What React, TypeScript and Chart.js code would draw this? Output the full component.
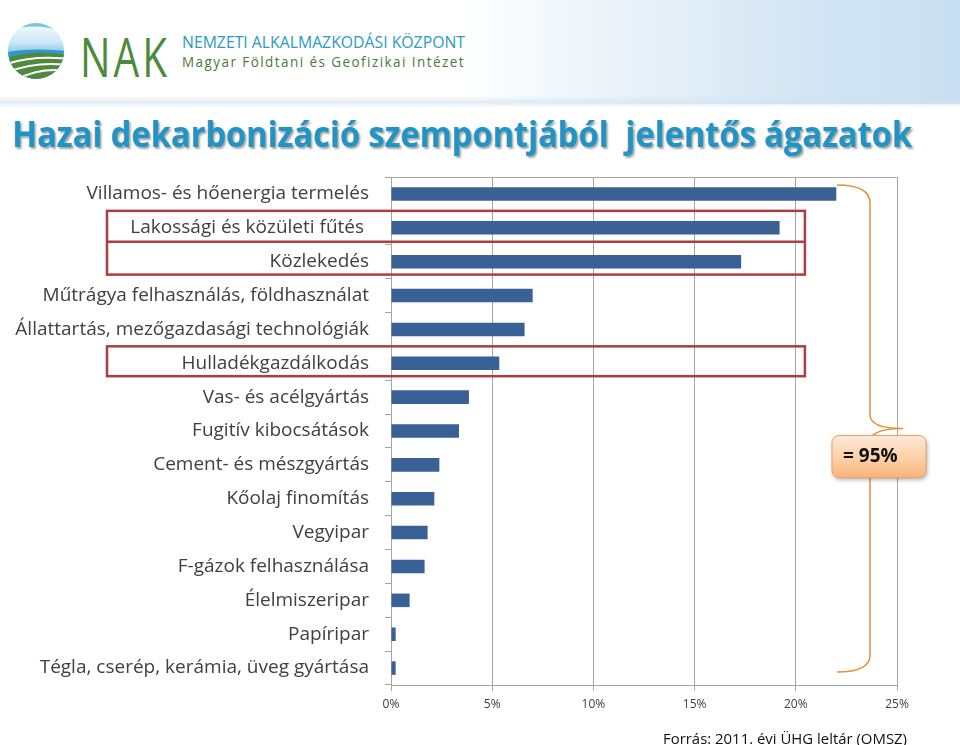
import React, { useEffect, useLayoutEffect, useRef } from "react";
import { Chart, registerables } from "chart.js";

Chart.register(...registerables);

const categories = [
  "Villamos- és hőenergia termelés",
  "Lakossági és közületi fűtés ",
  "Közlekedés",
  "Műtrágya felhasználás, földhasználat",
  "Állattartás, mezőgazdasági technológiák",
  "Hulladékgazdálkodás",
  "Vas- és acélgyártás",
  "Fugitív kibocsátások",
  "Cement- és mészgyártás",
  "Kőolaj finomítás",
  "Vegyipar",
  "F-gázok felhasználása",
  "Élelmiszeripar",
  "Papíripar",
  "Tégla, cserép, kerámia, üveg gyártása",
];

const shares = [22.0, 19.2, 17.3, 7.0, 6.6, 5.35, 3.85, 3.36, 2.39, 2.14, 1.81, 1.66, 0.92, 0.23, 0.23];

const xMin = 0;
const xMax = 25;
const xStep = 5;

const highlightGroups = [[1, 2], [5]];
const highlightRightValue = 20.45;
const calloutText = "= 95%";
const titleText = "Hazai dekarbonizáció szempontjából  jelentős ágazatok";
const sourceText = "Forrás: 2011. évi ÜHG leltár (OMSZ)";

const FONT = "'Open Sans', 'DejaVu Sans', sans-serif";

function FitText({ text, width, style }: { text: string; width: number; style: React.CSSProperties }) {
  const ref = useRef<HTMLSpanElement>(null);
  useLayoutEffect(() => {
    const el = ref.current;
    if (!el) return;
    el.style.transform = "none";
    const w = el.getBoundingClientRect().width;
    if (w > 0) el.style.transform = `scaleX(${width / w})`;
  });
  return (
    <span
      ref={ref}
      style={{ display: "inline-block", whiteSpace: "pre", transformOrigin: "left top", ...style }}
    >
      {text}
    </span>
  );
}

const annotations = {
  id: "annotations",
  afterDraw(chart: any) {
    const ctx = chart.ctx;
    const ca = chart.chartArea;
    const x = chart.scales.x;
    const y = chart.scales.y;
    const band = Math.abs(y.getPixelForValue(1) - y.getPixelForValue(0));
    ctx.save();
    // plot border top & right
    ctx.strokeStyle = "#a6a6a6";
    ctx.lineWidth = 1;
    ctx.beginPath();
    ctx.moveTo(ca.left, ca.top + 0.5);
    ctx.lineTo(ca.right + 0.5, ca.top + 0.5);
    ctx.lineTo(ca.right + 0.5, ca.bottom);
    ctx.stroke();

    // red highlight boxes
    ctx.strokeStyle = "#ad3e40";
    ctx.lineWidth = 2.5;
    const bx0 = 107;
    const bx1 = x.getPixelForValue(highlightRightValue);
    highlightGroups.forEach((g) => {
      const top = y.getPixelForValue(g[0]) - band / 2;
      const bottom = y.getPixelForValue(g[g.length - 1]) + band / 2 - 4;
      ctx.strokeRect(bx0, top, bx1 - bx0, bottom - top);
      for (let i = 0; i < g.length - 1; i++) {
        const yy = y.getPixelForValue(g[i]) + band / 2 - 3;
        ctx.beginPath();
        ctx.moveTo(bx0, yy);
        ctx.lineTo(bx1, yy);
        ctx.stroke();
      }
    });

    // brace
    const R = ca.right;
    const y0 = y.getPixelForValue(0) - 9;
    const y1 = y.getPixelForValue(categories.length - 1) + 4;
    const tipY = (y0 + y1) / 2;
    const vx = R - 27;
    ctx.strokeStyle = "#e3913c";
    ctx.lineWidth = 1.5;
    ctx.beginPath();
    ctx.moveTo(R - 60, y0);
    ctx.quadraticCurveTo(vx, y0, vx, y0 + 18);
    ctx.lineTo(vx, tipY - 14);
    ctx.quadraticCurveTo(vx, tipY, R + 6, tipY);
    ctx.quadraticCurveTo(vx, tipY, vx, tipY + 14);
    ctx.lineTo(vx, y1 - 17);
    ctx.quadraticCurveTo(vx, y1, R - 60, y1);
    ctx.stroke();

    // callout
    const cw = 94;
    const ch = 42;
    const cx = R - 18 - cw / 2;
    const cy = tipY + 28 - ch / 2;
    ctx.shadowColor = "rgba(0,0,0,0.35)";
    ctx.shadowBlur = 4;
    ctx.shadowOffsetX = 1;
    ctx.shadowOffsetY = 2;
    const grad = ctx.createLinearGradient(0, cy, 0, cy + ch);
    grad.addColorStop(0, "#fde9d7");
    grad.addColorStop(0.5, "#fcd2ac");
    grad.addColorStop(1, "#fab47a");
    ctx.fillStyle = grad;
    ctx.beginPath();
    ctx.roundRect(cx, cy, cw, ch, 7);
    ctx.fill();
    ctx.shadowColor = "transparent";
    ctx.strokeStyle = "#f1a262";
    ctx.lineWidth = 1;
    ctx.stroke();
    ctx.fillStyle = "#111111";
    ctx.font = `bold 19px ${FONT}`;
    ctx.textAlign = "left";
    ctx.textBaseline = "middle";
    ctx.fillText(calloutText, cx + 11, cy + ch / 2);
    ctx.restore();
  },
};

function Logo() {
  return (
    <svg width="64" height="64" viewBox="0 0 64 64" style={{ position: "absolute", left: 4, top: 19 }}>
      <defs>
        <clipPath id="lc">
          <circle cx="32" cy="32" r="28" />
        </clipPath>
        <linearGradient id="sky" x1="0" y1="0" x2="0" y2="1">
          <stop offset="0" stopColor="#ffffff" />
          <stop offset="0.35" stopColor="#cfe9f5" />
          <stop offset="0.6" stopColor="#6cc0e4" />
          <stop offset="1" stopColor="#2c9ad2" />
        </linearGradient>
      </defs>
      <g clipPath="url(#lc)">
        <rect x="0" y="0" width="64" height="64" fill="url(#sky)" />
        <path d="M0 6 Q32 -4 64 8 L64 14 Q32 2 0 12 Z" fill="#5fb6de" opacity="0.8" />
        <path d="M0 34 Q20 28 64 32 L64 64 L0 64 Z" fill="#2f96cf" />
        <path d="M0 40 Q26 30 64 36 L64 64 L0 64 Z" fill="#4f8a3b" />
        <path d="M0 46 Q28 36 64 40" stroke="#ffffff" strokeWidth="2" fill="none" />
        <path d="M2 54 Q30 42 64 46" stroke="#ffffff" strokeWidth="2" fill="none" />
        <path d="M10 62 Q34 48 64 52" stroke="#ffffff" strokeWidth="2" fill="none" />
      </g>
    </svg>
  );
}

export default function App() {
  const canvasRef = useRef<HTMLCanvasElement>(null);

  useEffect(() => {
    document.body.style.margin = "0";
    const canvas = canvasRef.current;
    if (!canvas) return;
    const chart = new Chart(canvas, {
      type: "bar",
      data: {
        labels: categories,
        datasets: [
          {
            data: shares,
            backgroundColor: "#3a6195",
            borderWidth: 0,
            barPercentage: 0.4,
            categoryPercentage: 1,
          },
        ],
      },
      options: {
        indexAxis: "y",
        animation: false,
        responsive: false,
        maintainAspectRatio: false,
        layout: { padding: { left: 0, top: 177, right: 63, bottom: 0 } },
        plugins: { legend: { display: false }, tooltip: { enabled: false } },
        scales: {
          x: {
            min: xMin,
            max: xMax,
            ticks: {
              stepSize: xStep,
              callback: (v: any) => `${v}%`,
              color: "#404040",
              font: { family: FONT, size: 12 },
              padding: 6,
              maxRotation: 0,
            },
            grid: { color: "#a6a6a6", tickLength: 6, lineWidth: 1 },
            border: { color: "#a6a6a6" },
            afterFit: (s: any) => {
              s.height = 60;
            },
          },
          y: {
            grid: { display: true, drawOnChartArea: false, offset: true, tickLength: 6, color: "#a6a6a6" },
            border: { color: "#a6a6a6" },
            ticks: {
              color: "#404040",
              font: { family: FONT, size: 19 },
              padding: 16,
              autoSkip: false,
            },
            afterFit: (s: any) => {
              s.width = 391;
            },
          },
        },
      },
      plugins: [annotations],
    });
    return () => chart.destroy();
  }, []);

  return (
    <div style={{ position: "relative", width: 960, height: 745, overflow: "hidden", background: "#ffffff", fontFamily: FONT }}>
      <div
        style={{
          position: "absolute",
          left: 0,
          top: 0,
          width: 960,
          height: 104,
          background: "linear-gradient(to right, #ffffff 0%, #ffffff 48%, #e6f0f8 68%, #d3e5f3 85%, #c8dff1 100%)",
        }}
      />
      <div
        style={{
          position: "absolute",
          left: 0,
          top: 96,
          width: 960,
          height: 12,
          background: "linear-gradient(to bottom, rgba(205,225,240,0) 0%, rgba(205,225,240,0.6) 50%, rgba(255,255,255,0) 100%)",
        }}
      />
      <Logo />
      <div style={{ position: "absolute", left: 80, top: 22 }}>
        <FitText
          text="NAK"
          width={90}
          style={{ fontFamily: FONT, fontSize: 54, fontWeight: 500, letterSpacing: 4, color: "#4d8a3c", lineHeight: "68px" }}
        />
      </div>
      <div style={{ position: "absolute", left: 182, top: 31 }}>
        <FitText
          text="NEMZETI ALKALMAZKODÁSI KÖZPONT"
          width={283}
          style={{ fontFamily: FONT, fontSize: 17, color: "#2b9bc0", lineHeight: "22px" }}
        />
      </div>
      <div style={{ position: "absolute", left: 182, top: 50 }}>
        <FitText
          text="Magyar Földtani és Geofizikai Intézet"
          width={283}
          style={{ fontFamily: FONT, fontSize: 14, color: "#4a7a37", letterSpacing: 1.5, lineHeight: "18px" }}
        />
      </div>
      <div style={{ position: "absolute", left: 12, top: 110 }}>
        <FitText
          text={titleText}
          width={900}
          style={{
            fontFamily: FONT,
            fontSize: 35,
            fontWeight: 700,
            color: "#1f95c7",
            lineHeight: "48px",
            textShadow: "2px 2px 2px rgba(0,0,0,0.35)",
          }}
        />
      </div>
      <canvas ref={canvasRef} width={960} height={745} style={{ position: "absolute", left: 0, top: 0 }} />
      <div style={{ position: "absolute", left: 663, top: 727 }}>
        <FitText text={sourceText} width={244} style={{ fontFamily: FONT, fontSize: 15, color: "#111111", lineHeight: "20px" }} />
      </div>
    </div>
  );
}
